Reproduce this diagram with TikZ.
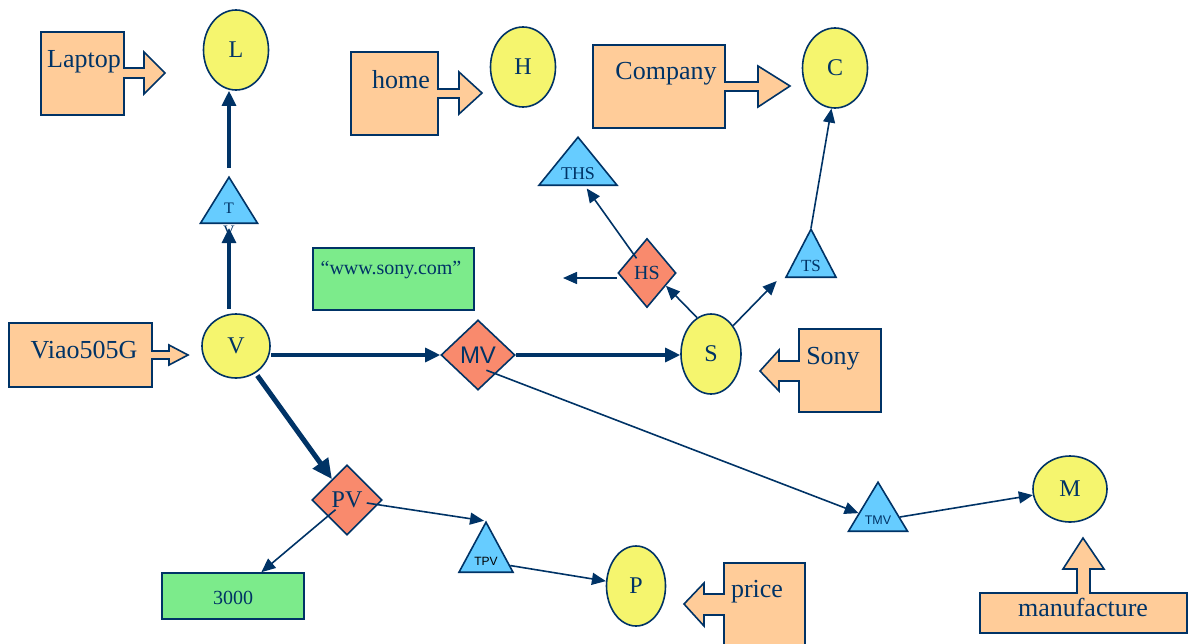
\documentclass[tikz,border=0pt]{standalone}
\usepackage{fontspec}
\setmainfont{Liberation Serif}
\setsansfont{Liberation Sans}
\usetikzlibrary{shapes.geometric,arrows.meta}
\definecolor{navy}{RGB}{0,51,102}
\definecolor{entyellow}{RGB}{245,245,110}
\definecolor{relred}{RGB}{249,138,109}
\definecolor{attrblue}{RGB}{102,204,255}
\definecolor{valgreen}{RGB}{124,235,139}
\definecolor{tagpeach}{RGB}{255,204,153}

\begin{document}
\begin{tikzpicture}[x=1pt,y=1pt]
\tikzstyle{every node}+=[inner sep=0pt, text=navy]
\tikzstyle{entity}=[ellipse, draw=navy, line width=1.6pt, fill=entyellow, font=\fontsize{24}{24}\selectfont]
\tikzstyle{relation}=[diamond, draw=navy, line width=1.6pt, fill=relred]
\tikzstyle{attr}=[isosceles triangle, isosceles triangle apex angle=90, isosceles triangle stretches, shape border rotate=90, draw=navy, line width=1.6pt, fill=attrblue, anchor=lower side]
\tikzstyle{value}=[rectangle, draw=navy, line width=1.6pt, fill=valgreen, font=\fontsize{20}{20}\selectfont]
\tikzstyle{tagbox}=[draw=navy, line width=1.6pt, fill=tagpeach]
\tikzstyle{tagtext}=[anchor=base, font=\fontsize{26}{26}\selectfont]
\tikzstyle{link}=[draw=navy, line width=1.6pt, -{Triangle[length=14pt,width=12pt]}]
\tikzstyle{heavy}=[draw=navy, line width=3.2pt, -{Triangle[length=15pt,width=14pt]}]
\useasboundingbox (0,0) rectangle (1191,-643);
% callout boxes
\draw [tagbox] (41,-32) -- (124,-32) -- (124,-68) -- (144,-68) -- (144,-52) -- (165,-73) -- (144,-94) -- (144,-78) -- (124,-78) -- (124,-115) -- (41,-115) -- cycle;
\node [tagtext] (laptop) at (84,-67) {Laptop};
\draw [tagbox] (351,-52) -- (438,-52) -- (438,-89) -- (459,-89) -- (459,-72) -- (482,-93) -- (459,-114) -- (459,-98) -- (438,-98) -- (438,-135) -- (351,-135) -- cycle;
\node [tagtext] (home) at (401,-88) {home};
\draw [tagbox] (593,-45) -- (725,-45) -- (725,-82) -- (758,-82) -- (758,-66) -- (790,-86) -- (758,-107) -- (758,-91) -- (725,-91) -- (725,-128) -- (593,-128) -- cycle;
\node [tagtext] (company) at (666,-79) {Company};
\draw [tagbox] (9,-323) -- (152,-323) -- (152,-351) -- (169,-351) -- (169,-345) -- (188,-355) -- (169,-365) -- (169,-359) -- (152,-359) -- (152,-387) -- (9,-387) -- cycle;
\node [tagtext] (viao) at (84,-358) {Viao505G};
\draw [tagbox] (881,-329) -- (799,-329) -- (799,-361) -- (779,-361) -- (779,-350) -- (760,-371) -- (779,-391) -- (779,-381) -- (799,-381) -- (799,-412) -- (881,-412) -- cycle;
\node [tagtext] (sony) at (833,-364) {Sony};
\draw [tagbox] (805,-563) -- (724,-563) -- (724,-594) -- (704,-594) -- (704,-583) -- (684,-604) -- (704,-626) -- (704,-615) -- (724,-615) -- (724,-660) -- (805,-660) -- cycle;
\node [tagtext] (price) at (757,-597) {price};
\draw [tagbox] (980,-593) -- (1077,-593) -- (1077,-569) -- (1063,-569) -- (1083,-538) -- (1104,-569) -- (1090,-569) -- (1090,-593) -- (1187,-593) -- (1187,-633) -- (980,-633) -- cycle;
\node [tagtext] (manuf) at (1083,-616) {manufacture};
% values
\node [value, minimum width=161, minimum height=62] (url) at (393.5,-279) {};
\node [anchor=base, font=\fontsize{20}{20}\selectfont] (urltext) at (391,-274) {``www.sony.com''};
\node [value, minimum width=142, minimum height=46] (n3000) at (233,-596) {};
\node [anchor=base, font=\fontsize{20}{20}\selectfont] (n3000text) at (233,-604) {3000};
% entities
\node [entity, minimum width=65, minimum height=80] (L) at (236,-50) {L};
\node [entity, minimum width=65, minimum height=80] (H) at (523,-67) {H};
\node [entity, minimum width=65, minimum height=80] (C) at (835,-68) {C};
\node [entity, minimum width=68, minimum height=64] (V) at (236,-346) {V};
\node [entity, minimum width=60, minimum height=80] (S) at (711,-354) {S};
\node [entity, minimum width=59, minimum height=80] (P) at (636,-586) {P};
\node [entity, minimum width=74, minimum height=66] (M) at (1070,-489) {M};
% relations
\node [relation, minimum width=74, minimum height=70, font=\sffamily\fontsize{24}{24}\selectfont] (MV) at (478,-355) {MV};
\node [relation, minimum width=70, minimum height=70, font=\fontsize{24}{24}\selectfont] (PV) at (347,-500) {PV};
\node [relation, minimum width=58, minimum height=69, font=\fontsize{20}{20}\selectfont] (HS) at (647,-273) {HS};
% attributes
\node [attr, minimum width=57, minimum height=46, font=\fontsize{16}{16}\selectfont, label={[font=\fontsize{16}{16}\selectfont, yshift=-2pt]below:V}] (T) at (229,-224) {T};
\node [attr, minimum width=78, minimum height=48, font=\fontsize{18}{18}\selectfont] (THS) at (578,-186) {THS};
\node [attr, minimum width=50, minimum height=48, font=\fontsize{17}{17}\selectfont] (TS) at (811,-278) {TS};
\node [attr, minimum width=54, minimum height=50, font=\sffamily\fontsize{12}{12}\selectfont, text=black] (TPV) at (486,-573) {TPV};
\node [attr, minimum width=59, minimum height=49, font=\sffamily\fontsize{12.5}{12.5}\selectfont] (TMV) at (878,-532) {TMV};
\coordinate (hsend) at (563,-278);
% links
\draw [heavy, shorten <=4pt] (V.north -| T.lower side) -- ([yshift=-4pt]T.lower side);
\draw [heavy, shorten <=8pt] (T.apex) -- (T.apex |- L.south);
\draw [heavy] (V.east |- MV.west) -- (MV.west);
\draw [heavy] (MV.east) -- (MV.east -| S.west);
\draw [draw=navy, line width=5pt, -{Triangle[length=20pt,width=18pt]}, shorten <=3pt] (V) -- (PV);
\draw [link, shorten <=15pt] (PV.center) -- (n3000.40);
\draw [link, shorten <=20pt, shorten >=2pt] (PV.center) -- (TPV.apex);
\draw [link] (TPV) -- (P);
\draw [link, shorten <=9pt] ([yshift=-12pt]MV.center) -- (TMV);
\draw [link] (TMV) -- (M);
\draw [link] (S.111) -- (HS.-34);
\draw [link, shorten <=18pt, shorten >=3pt] (HS.center) -- ([xshift=7pt]THS.lower side);
\draw [link] (HS.west |- hsend) -- (hsend);
\draw [link] (S.52) -- ([shift={(-8,-3)}]TS.left corner);
\draw [link] (TS.apex) -- (C.265);
\end{tikzpicture}
\end{document}
